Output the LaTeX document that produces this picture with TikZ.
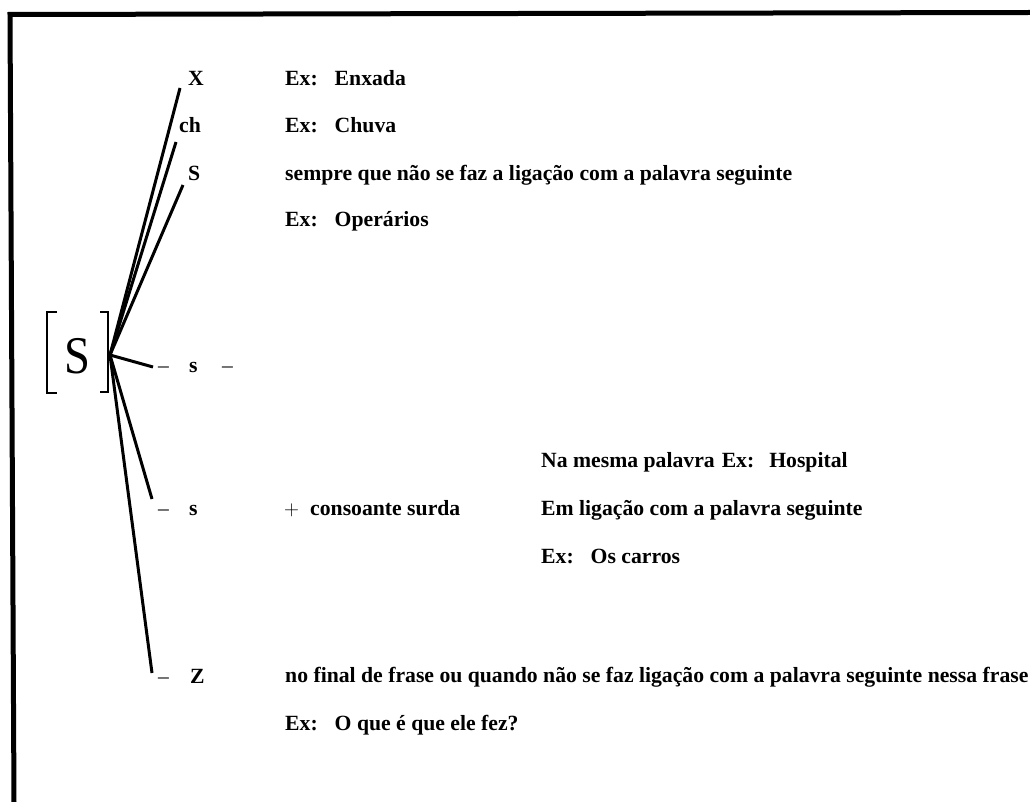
\documentclass[tikz,border=0pt]{standalone}
\usepackage{fontspec}
\setmainfont{Liberation Serif}
\tikzset{
  lbl/.style={anchor=base west, inner sep=0pt, font=\fontsize{21.7}{24}\selectfont\bfseries},
  dsh/.style={anchor=base west, inner sep=0pt, font=\fontsize{21.5}{24}\selectfont},
  ray/.style={line width=3pt},
  brk/.style={line width=2pt},
  frameline/.style={line width=5pt, line join=miter}
}
\begin{document}
\begin{tikzpicture}[x=1pt,y=-1pt]
\useasboundingbox (0,0) rectangle (1030,802);
% frame
\draw[frameline] (1030,12.5) -- (10,14.5) -- (14,802);
% [S]
\node[anchor=base, inner sep=0pt, font=\fontsize{53}{56}\selectfont, xscale=0.88] (bigS) at (77.5,373) {S};
\draw[brk] (57,312) -- (47,312) -- (47,393) -- (57,393);
\draw[brk] (100,312) -- (108,312) -- (108,392) -- (100,392);
\coordinate (hub) at (110,355);
% endpoints
\coordinate (eX) at (180,88);
\coordinate (ech) at (176,142);
\coordinate (eS) at (183,185);
\coordinate (es1) at (153,367);
\coordinate (es2) at (152,499);
\coordinate (eZ) at (152,673);
\draw[ray] (hub) -- (eX);
\draw[ray] (hub) -- (ech);
\draw[ray] (hub) -- (eS);
\draw[ray] (hub) -- (es1);
\draw[ray] (hub) -- (es2);
\draw[ray] (hub) -- (eZ);
% left labels
\node[lbl] (X) at (188,86) {X};
\node[lbl] (ch) at (179,133) {ch};
\node[lbl] (S1) at (188,181) {S};
\node[dsh] (d1) at (158,372) {–};
\node[lbl] (s2) at (189,372) {s};
\node[dsh] (d2) at (222,372) {–};
\node[dsh] (d3) at (158,515) {–};
\node[lbl] (s3) at (189,515) {s};
\node[dsh] (d4) at (158,683) {–};
\node[lbl] (Z) at (190,683) {Z};
% right texts
\node[lbl] (t1) at (285,86) {Ex:\hspace{17pt}Enxada};
\node[lbl] (t2) at (285,133) {Ex:\hspace{17pt}Chuva};
\node[lbl] (t3) at (285,181) {sempre que não se faz a ligação com a palavra seguinte};
\node[lbl] (t4) at (285,227) {Ex:\hspace{17pt}Operários};
\node[lbl] (t5) at (541,467) {Na mesma palavra\hspace{7pt}Ex:\hspace{15pt}Hospital};
\node[dsh] (plus) at (284,515) {$+$};
\node[lbl] (t6) at (310,515) {consoante surda};
\node[lbl] (t7) at (541,515) {Em ligação com a palavra seguinte};
\node[lbl] (t8) at (541,563) {Ex:\hspace{17pt}Os carros};
\node[lbl] (t9) at (285,682) {no final de frase ou quando não se faz ligação com a palavra seguinte nessa frase};
\node[lbl] (t10) at (285,730) {Ex:\hspace{17pt}O que é que ele fez?};
\end{tikzpicture}
\end{document}
